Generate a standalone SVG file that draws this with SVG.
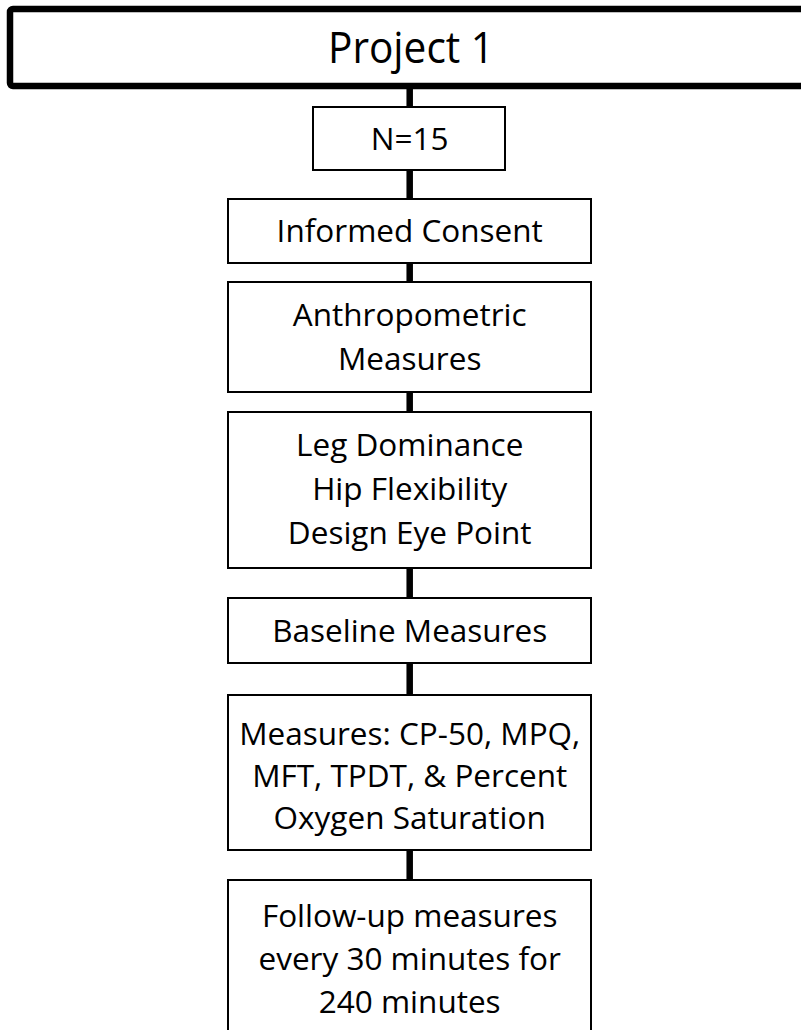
<svg xmlns="http://www.w3.org/2000/svg" width="801" height="1030" viewBox="0 0 801 1030">
<style>
  .box { fill: #ffffff; stroke: #000000; stroke-width: 2; }
  .top { fill: #ffffff; stroke: #000000; stroke-width: 6.5; }
  .t { font-family: "Open Sans", "Liberation Sans", sans-serif; font-size: 31.5px; fill: #000000; text-anchor: middle; }
  .tt { font-family: "Open Sans", "Liberation Sans", sans-serif; font-size: 43px; fill: #000000; text-anchor: middle; }
  .conn { stroke: #000000; stroke-width: 6.5; fill: none; }
</style>
<rect width="801" height="1030" fill="#ffffff"/>
<g id="connectors">
  <line class="conn" x1="409.7" y1="86" x2="409.7" y2="107"/>
  <line class="conn" x1="409.7" y1="170" x2="409.7" y2="199"/>
  <line class="conn" x1="409.7" y1="263" x2="409.7" y2="282"/>
  <line class="conn" x1="409.7" y1="392" x2="409.7" y2="412"/>
  <line class="conn" x1="409.7" y1="568" x2="409.7" y2="598"/>
  <line class="conn" x1="409.7" y1="663" x2="409.7" y2="695"/>
  <line class="conn" x1="409.7" y1="850" x2="409.7" y2="880"/>
</g>
<g id="project1">
  <rect class="top" x="10" y="9" width="800" height="77" rx="3"/>
  <text class="tt" x="411" y="63" textLength="166" lengthAdjust="spacingAndGlyphs">Project 1</text>
</g>
<g id="n15">
  <rect class="box" x="313" y="107" width="192" height="63"/>
  <text class="t" x="409.7" y="150">N=15</text>
</g>
<g id="consent">
  <rect class="box" x="228" y="199" width="363" height="64"/>
  <text class="t" x="409.7" y="242">Informed Consent</text>
</g>
<g id="anthropometric">
  <rect class="box" x="228" y="282" width="363" height="110"/>
  <text class="t" x="409.7" y="326">Anthropometric</text>
  <text class="t" x="409.7" y="370">Measures</text>
</g>
<g id="leg">
  <rect class="box" x="228" y="412" width="363" height="156"/>
  <text class="t" x="409.7" y="456">Leg Dominance</text>
  <text class="t" x="409.7" y="500">Hip Flexibility</text>
  <text class="t" x="409.7" y="544">Design Eye Point</text>
</g>
<g id="baseline">
  <rect class="box" x="228" y="598" width="363" height="65"/>
  <text class="t" x="409.7" y="642">Baseline Measures</text>
</g>
<g id="measures">
  <rect class="box" x="228" y="695" width="363" height="155"/>
  <text class="t" x="409.7" y="745">Measures: CP-50, MPQ,</text>
  <text class="t" x="409.7" y="787">MFT, TPDT, &amp; Percent</text>
  <text class="t" x="409.7" y="829">Oxygen Saturation</text>
</g>
<g id="followup">
  <rect class="box" x="228" y="880" width="363" height="170"/>
  <text class="t" x="409.7" y="927">Follow-up measures</text>
  <text class="t" x="409.7" y="970">every 30 minutes for</text>
  <text class="t" x="409.7" y="1013">240 minutes</text>
</g>
</svg>
